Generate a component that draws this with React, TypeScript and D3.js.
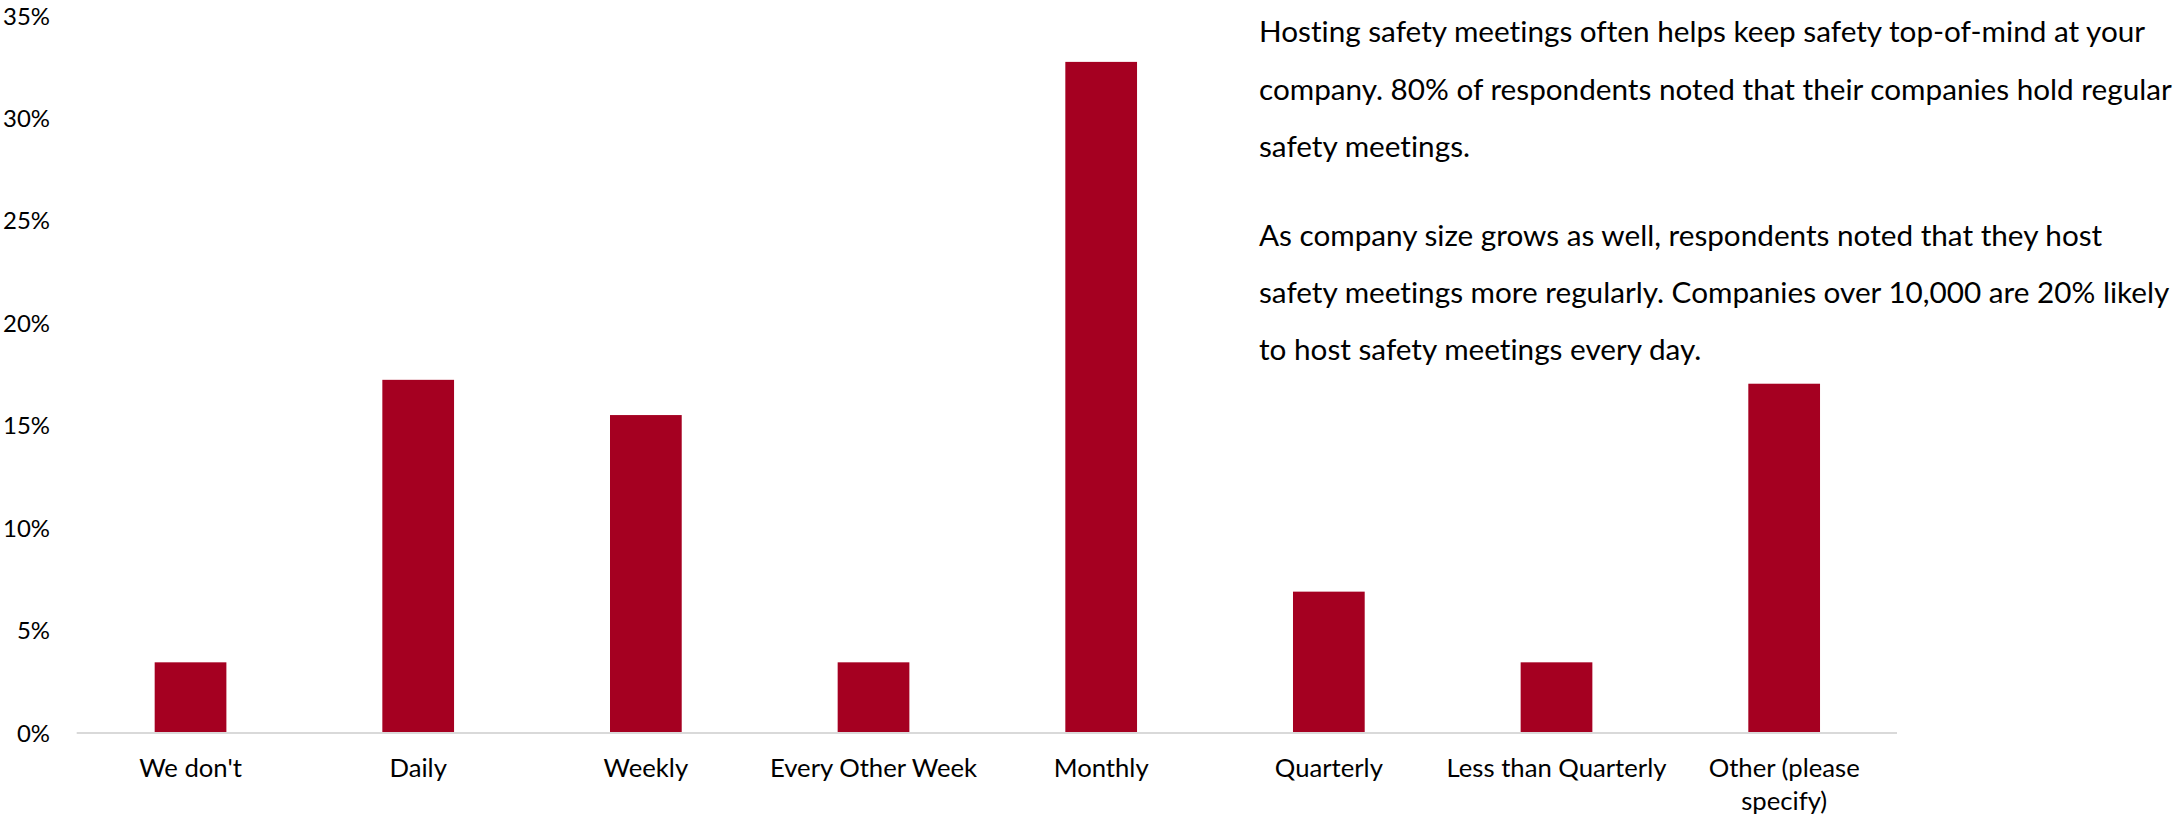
import React, { useLayoutEffect, useRef, useState } from "react";
import * as d3 from "d3";

const categories = [
  "We don't",
  "Daily",
  "Weekly",
  "Every Other Week",
  "Monthly",
  "Quarterly",
  "Less than Quarterly",
  "Other (please specify)",
];
const categoryLabelLines = [
  ["We don't"],
  ["Daily"],
  ["Weekly"],
  ["Every Other Week"],
  ["Monthly"],
  ["Quarterly"],
  ["Less than Quarterly"],
  ["Other (please", "specify)"],
];
const values = [3.45, 17.24, 15.52, 3.45, 32.76, 6.9, 3.45, 17.05];
const yTicks = [0, 5, 10, 15, 20, 25, 30, 35];
const paragraph1 = [
  "Hosting safety meetings often helps keep safety top-of-mind at your",
  "company. 80% of respondents noted that their companies hold regular",
  "safety meetings.",
];
const paragraph2 = [
  "As company size grows as well, respondents noted that they host",
  "safety meetings more regularly. Companies over 10,000 are 20% likely",
  "to host safety meetings every day.",
];

const W = 2177;
const H = 817;
const FONT = "Lato, 'Open Sans', 'Noto Sans', sans-serif";
const BAR = "#A50021";

export default function App() {
  const refPara = useRef<SVGTextElement>(null);
  const refX = useRef<SVGTextElement>(null);
  const refY = useRef<SVGTextElement>(null);
  const [sizes, setSizes] = useState({ p: 28, x: 28, y: 28 });

  useLayoutEffect(() => {
    const fit = (el: SVGTextElement | null, target: number) => {
      if (!el) return 28;
      const cur = parseFloat(getComputedStyle(el).fontSize) || 28;
      const w = el.getComputedTextLength();
      return w > 0 ? (cur * target) / w : cur;
    };
    const measure = () => {
      setSizes({
        p: fit(refPara.current, 913),
        x: fit(refX.current, 220),
        y: fit(refY.current, 47),
      });
    };
    const fonts = (document as any).fonts;
    if (fonts && fonts.ready) fonts.ready.then(measure);
    else measure();
  }, []);

  const x = d3.scaleBand<string>().domain(categories).range([76.7, 1898]).padding(0);
  const y = d3.scaleLinear().domain([0, 35]).range([733, 16]);
  const bw = x.bandwidth() * 0.315;
  const noLig = { fontVariantLigatures: "none" as const };

  return (
    <svg
      width={W}
      height={H}
      style={{ position: "absolute", left: 0, top: 0, display: "block", background: "#fff" }}
      fontFamily={FONT}
    >
      <rect x={0} y={0} width={W} height={H} fill="#fff" />
      {yTicks.map((t) => (
        <text
          key={t}
          ref={t === 35 ? refY : undefined}
          x={50}
          y={y(t)}
          dy="0.36em"
          textAnchor="end"
          style={{ ...noLig, fontSize: sizes.y }}
          fill="#000"
        >
          {t}%
        </text>
      ))}
      {categories.map((c, i) => (
        <rect
          key={c}
          x={(x(c) as number) + x.bandwidth() / 2 - bw / 2}
          y={y(values[i])}
          width={bw}
          height={y(0) - y(values[i])}
          fill={BAR}
        />
      ))}
      <line x1={76.7} x2={1897} y1={y(0)} y2={y(0)} stroke="#d9d9d9" strokeWidth={2} />
      {categories.map((c, i) => (
        <text
          key={c}
          ref={i === 6 ? refX : undefined}
          x={(x(c) as number) + x.bandwidth() / 2}
          y={777}
          textAnchor="middle"
          style={{ ...noLig, fontSize: sizes.x }}
          fill="#000"
        >
          {categoryLabelLines[i].map((ln, j) => (
            <tspan key={j} x={(x(c) as number) + x.bandwidth() / 2} dy={j === 0 ? 0 : 33}>
              {ln}
            </tspan>
          ))}
        </text>
      ))}
      {paragraph1.map((ln, i) => (
        <text
          key={"p1" + i}
          ref={i === 1 ? refPara : undefined}
          x={1259}
          y={42.3 + i * 57.2}
          style={{ ...noLig, fontSize: sizes.p }}
          fill="#000"
        >
          {ln}
        </text>
      ))}
      {paragraph2.map((ln, i) => (
        <text
          key={"p2" + i}
          x={1259}
          y={246 + i * 57}
          style={{ ...noLig, fontSize: sizes.p }}
          fill="#000"
        >
          {ln}
        </text>
      ))}
    </svg>
  );
}
